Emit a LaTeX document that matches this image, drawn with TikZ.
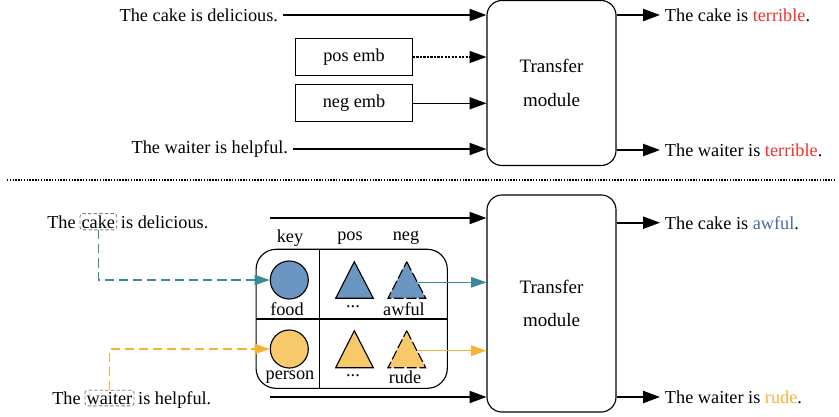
\documentclass[tikz,border=0pt]{standalone}
\usepackage{fontspec}
\setmainfont{Liberation Serif}
\usetikzlibrary{arrows.meta}
\definecolor{foodblue}{HTML}{6B96C1}
\definecolor{foodteal}{HTML}{3A8A9C}
\definecolor{persyel}{HTML}{F7C96A}
\definecolor{persorange}{HTML}{F6B234}
\definecolor{wordblue}{HTML}{4A6AA5}
\definecolor{wordred}{HTML}{F03030}
\definecolor{wordorange}{HTML}{F5B335}
\tikzset{
  every node/.style={font=\fontsize{13}{15}\selectfont},
  arr/.style={-{Triangle[length=0.42cm,width=0.3cm]}, line width=1.3pt},
  carr/.style={-{Triangle[length=0.38cm,width=0.26cm]}, line width=1pt},
  module/.style={draw, rounded corners=0.375cm, line width=0.8pt, minimum width=3.225cm,
    align=center, font=\fontsize{13.5}{24}\selectfont},
  embbox/.style={draw, line width=0.8pt, minimum width=2.915cm, minimum height=0.93cm},
  wordbox/.style={draw=gray, line width=0.6pt, dash pattern=on 2.5pt off 1.5pt, rounded corners=2pt, inner sep=1.2pt},
  keydot/.style={circle, draw, line width=0.8pt, minimum size=0.95cm, inner sep=0pt},
  plain/.style={inner sep=0pt}
}
\begin{document}
\begin{tikzpicture}[x=0.025cm, y=-0.025cm]
  \useasboundingbox (0,0) rectangle (839,416);

  % upper part: plain transfer
  \node[module, minimum height=4.125cm] (tm1) at (551.5,83) {Transfer\\module};
  \node[anchor=east] (in1) at (283,15) {The cake is delicious.};
  \node[anchor=east] (in2) at (293,149) {The waiter is helpful.};
  \node[embbox] (posemb) at (354,57) {pos emb};
  \node[embbox] (negemb) at (354,103.3) {neg emb};
  \draw[arr] (in1.east) -- (in1.east -| tm1.west);
  \draw[arr] (in2.east) -- (in2.east -| tm1.west);
  \draw[arr, line width=0.9pt, dash pattern=on 1.5pt off 1pt] (posemb.east) -- (posemb.east -| tm1.west);
  \draw[arr, line width=1pt] (negemb.east) -- (negemb.east -| tm1.west);
  \node[anchor=west] (out1) at (660,15) {The cake is \textcolor{wordred}{terrible}.};
  \node[anchor=west] (out2) at (660,150) {The waiter is \textcolor{wordred}{terrible}.};
  \draw[arr] (out1.west -| tm1.east) -- (out1.west);
  \draw[arr] (out2.west -| tm1.east) -- (out2.west);

  \draw[line width=0.9pt, dash pattern=on 1pt off 1pt] (7,180) -- (835,180);

  % lower part: with key memory
  \node[module, minimum height=5.425cm] (tm2) at (551.5,303.5) {Transfer\\module};

  \node[anchor=base west, plain] (the1) at (47,228) {The};
  \node[wordbox, anchor=base west, xshift=2.5pt] (cake) at (the1.base east) {cake};
  \node[anchor=base west, plain, xshift=2.5pt] (rest1) at (cake.base east) {is delicious.};
  \node[anchor=base west, plain] (the2) at (52,404) {The};
  \node[wordbox, anchor=base west, xshift=2.5pt] (waiter) at (the2.base east) {waiter};
  \node[anchor=base west, plain, xshift=2.5pt] (rest2) at (waiter.base east) {is helpful.};

  \node[draw, rounded corners=0.5cm, line width=0.8pt, minimum width=4.78cm,
    minimum height=3.475cm] (tbl) at (351.7,318.8) {};
  \draw[line width=0.8pt] (319.3,249.3) -- (319.3,388.3);
  \draw[line width=0.8pt] (256,319) -- (447.3,319);
  \node (keyhd) at (290,238) {key};
  \node (poshd) at (350,238) {pos};
  \node (neghd) at (406,238) {neg};

  \node[keydot, fill=foodblue] (food) at (289.3,280) {};
  \node[keydot, fill=persyel] (person) at (289.3,349) {};
  \filldraw[fill=foodblue, line width=0.8pt] (354.3,261.7) -- (373.3,298.3) -- (335.7,298.3) -- cycle;
  \filldraw[fill=foodblue, line width=0.8pt, dash pattern=on 7pt off 2pt] (406.7,261.7) -- (425.7,298.3) -- (388,298.3) -- cycle;
  \filldraw[fill=persyel, line width=0.8pt] (354.3,330.7) -- (373.3,367.7) -- (335.7,367.7) -- cycle;
  \filldraw[fill=persyel, line width=0.8pt, dash pattern=on 7pt off 2pt] (406.7,330.7) -- (425.7,367.7) -- (388,367.7) -- cycle;
  \node (foodlbl) at (287,309) {food};
  \node (personlbl) at (290,377) {person};
  \node (posdots1) at (353,307) {...};
  \node (posdots2) at (353,376) {...};
  \node (awfullbl) at (404,309) {awful};
  \node (rudelbl) at (405,377) {rude};

  \draw[carr, foodteal, dash pattern=on 6.5pt off 3.5pt] (cake.south) |- (food.west);
  \draw[carr, persorange, dash pattern=on 6.5pt off 3.5pt] (waiter.north) |- (person.west);
  \coordinate (awfulout) at (418,282.3);
  \coordinate (rudeout) at (418,350.7);
  \draw[carr, foodteal] (awfulout) -- (awfulout -| tm2.west);
  \draw[carr, persorange] (rudeout) -- (rudeout -| tm2.west);

  \coordinate (in3) at (270,218);
  \coordinate (in4) at (270,397);
  \draw[arr] (in3) -- (in3 -| tm2.west);
  \draw[arr] (in4) -- (in4 -| tm2.west);
  \node[anchor=west] (out3) at (660,222.7) {The cake is \textcolor{wordblue}{awful}.};
  \node[anchor=west] (out4) at (660,397) {The waiter is \textcolor{wordorange}{rude}.};
  \draw[arr] (out3.west -| tm2.east) -- (out3.west);
  \draw[arr] (out4.west -| tm2.east) -- (out4.west);
\end{tikzpicture}
\end{document}
